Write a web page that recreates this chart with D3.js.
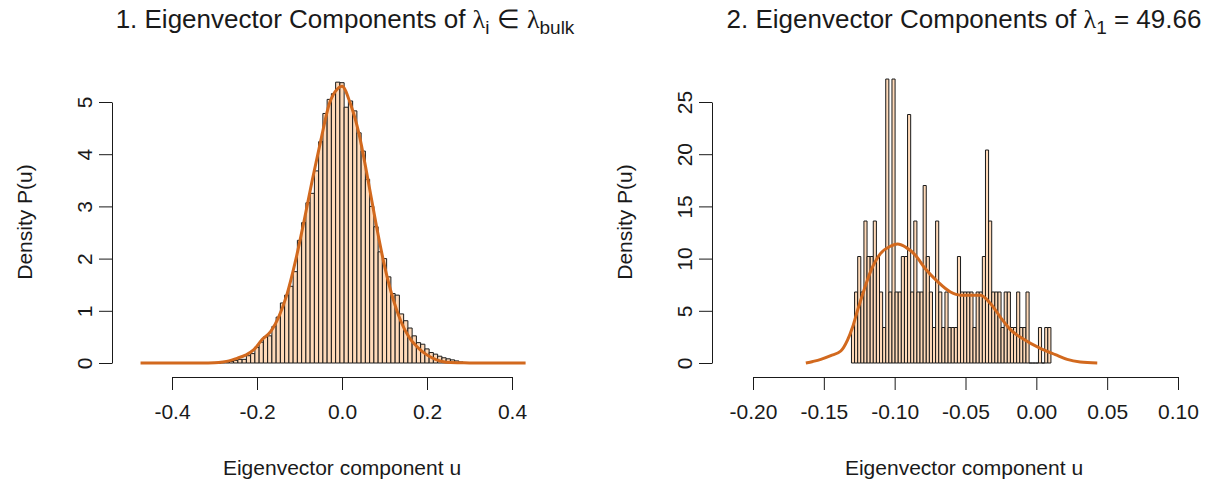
<!DOCTYPE html>
<html>
<head>
<meta charset="utf-8">
<script src="https://cdn.jsdelivr.net/npm/d3@7"></script>
<style>
  body { margin: 0; background: #fff; }
  svg { display: block; font-family: "Liberation Sans", Arial, sans-serif; }
</style>
</head>
<body>
<svg id="chart" width="1216" height="487"></svg>
<script>
// panel 1: bulk eigenvector components, histogram bins of 0.01
const leftBinStart = -0.305;
const leftBinWidth = 0.01;
const leftDensity = [
  0.01, 0.0, 0.01, 0.02, 0.03, 0.05, 0.07, 0.07, 0.14, 0.18,
  0.30, 0.40, 0.50, 0.52, 0.70, 0.88, 1.15, 1.30, 1.47, 1.75,
  2.35, 2.69, 3.07, 3.25, 3.68, 4.24, 4.78, 5.05, 5.16, 5.38,
  5.37, 4.90, 5.02, 4.83, 4.41, 4.06, 3.52, 3.00, 2.61, 2.13,
  2.00, 1.65, 1.33, 1.30, 0.94, 0.81, 0.67, 0.52, 0.39, 0.36,
  0.27, 0.20, 0.17, 0.13, 0.10, 0.08, 0.06, 0.04, 0.02, 0.01,
];
const leftKdeU = [
  -0.474, -0.40, -0.33, -0.30, -0.28, -0.266, -0.247, -0.227, -0.208, -0.188,
  -0.168, -0.149, -0.129, -0.109, -0.089, -0.070, -0.050, -0.030, -0.011, 0.0,
  0.020, 0.040, 0.060, 0.080, 0.099, 0.119, 0.138, 0.158, 0.178, 0.197,
  0.217, 0.236, 0.256, 0.28, 0.30, 0.35, 0.432,
];
const leftKdeP = [
  0, 0, 0, 0.005, 0.02, 0.04, 0.09, 0.15, 0.25, 0.45,
  0.60, 0.88, 1.33, 1.97, 2.73, 3.50, 4.26, 4.96, 5.25, 5.30,
  4.96, 4.39, 3.56, 2.67, 1.90, 1.26, 0.81, 0.49, 0.30, 0.17,
  0.08, 0.03, 0.01, 0.005, 0, 0, 0,
];
const leftXTicks = [-0.4, -0.2, 0.0, 0.2, 0.4];
const leftYTicks = [0, 1, 2, 3, 4, 5];

// panel 2: leading eigenvector, counts per bin (one count = 3.4 density)
const rightBinStart = -0.1305;
const rightBinWidth = 0.0022;
const rightCountUnit = 3.4;
const rightCounts = [
  1, 2, 3, 2, 4, 3, 3, 4, 3, 2,
  1, 8, 2, 8, 2, 2, 3, 3, 7, 2,
  4, 2, 2, 5, 3, 2, 1, 4, 2, 1,
  2, 1, 1, 1, 3, 2, 2, 2, 2, 1,
  2, 2, 3, 6, 4, 2, 2, 2, 1, 2,
  2, 1, 1, 2, 1, 1, 2, 0, 0, 0,
  1, 0, 1, 1,
];
const rightKdeU = [
  -0.1627, -0.1577, -0.1521, -0.1451, -0.138, -0.1333, -0.1298, -0.1263, -0.1216, -0.1169,
  -0.1099, -0.1028, -0.0979, -0.0923, -0.0852, -0.0782, -0.0697, -0.0606, -0.0535, -0.0465,
  -0.0394, -0.0324, -0.0254, -0.0183, -0.0092, 0.0028, 0.0134, 0.0218, 0.031, 0.043,
];
const rightKdeP = [
  0, 0.15, 0.35, 0.7, 1.15, 2.2, 3.4, 5.0, 7.0, 8.8,
  10.5, 11.2, 11.4, 11.1, 10.3, 9.0, 7.8, 6.8, 6.5, 6.5,
  6.5, 5.7, 4.4, 3.2, 2.3, 1.4, 0.8, 0.35, 0.1, 0,
];
const rightXTicks = [-0.20, -0.15, -0.10, -0.05, 0.00, 0.05, 0.10];
const rightYTicks = [0, 5, 10, 15, 20, 25];

const svg = d3.select("#chart");
const FONT = 21;
const BAR_FILL = "#FFDAB9";
const KDE_COLOR = "#D2691E";
const INK = "#1a1a1a";

drawPanel({
  bins: leftDensity.map((v, i) => ({
    x0: leftBinStart + i * leftBinWidth,
    x1: leftBinStart + (i + 1) * leftBinWidth,
    value: v,
  })),
  kde: d3.zip(leftKdeU, leftKdeP),
  xDomain: [-0.4, 0.4],
  xRange: [172, 512],
  yDomain: [0, 5],
  xTicks: leftXTicks,
  yTicks: leftYTicks,
  xDigits: 1,
  axisX: 112,
  center: 342,
});

drawPanel({
  bins: rightCounts.map((c, i) => ({
    x0: rightBinStart + i * rightBinWidth,
    x1: rightBinStart + (i + 1) * rightBinWidth,
    value: c * rightCountUnit,
  })),
  kde: d3.zip(rightKdeU, rightKdeP),
  xDomain: [-0.2, 0.1],
  xRange: [753, 1178],
  yDomain: [0, 25],
  xTicks: rightXTicks,
  yTicks: rightYTicks,
  xDigits: 2,
  axisX: 712,
  center: 964,
});

drawTitle(345, "1. Eigenvector Components of ", [
  { t: "λ", greek: true }, { t: "i", sub: true }, { t: " ∈ " },
  { t: "λ", greek: true }, { t: "bulk", sub: true },
]);
drawTitle(964, "2. Eigenvector Components of ", [
  { t: "λ", greek: true }, { t: "1", sub: true }, { t: " = 49.66" },
]);

function drawPanel(cfg) {
  const x = d3.scaleLinear().domain(cfg.xDomain).range(cfg.xRange);
  const y = d3.scaleLinear().domain(cfg.yDomain).range([363, 102]);
  const g = svg.append("g");

  // bars as paths so empty bins still leave the baseline stroke
  g.append("g")
    .selectAll("path")
    .data(cfg.bins)
    .join("path")
    .attr("d", (d) => `M${x(d.x0)},${y(0)}V${y(d.value)}H${x(d.x1)}V${y(0)}Z`)
    .attr("fill", BAR_FILL)
    .attr("stroke", INK)
    .attr("stroke-width", 1);

  const line = d3
    .line()
    .x((d) => x(d[0]))
    .y((d) => y(d[1]))
    .curve(d3.curveMonotoneX);

  g.append("path")
    .datum(cfg.kde)
    .attr("d", line)
    .attr("fill", "none")
    .attr("stroke", KDE_COLOR)
    .attr("stroke-width", 3)
    .attr("stroke-linejoin", "round");

  // R prints a plain hyphen for negatives, not the unicode minus d3 uses
  const xAxis = g
    .append("g")
    .attr("transform", "translate(0,377)")
    .call(
      d3.axisBottom(x)
        .tickValues(cfg.xTicks)
        .tickFormat((v) => v.toFixed(cfg.xDigits))
        .tickSize(13)
        .tickSizeOuter(0)
        .tickPadding(14),
    );
  styleAxis(xAxis);

  const yAxis = g
    .append("g")
    .attr("transform", `translate(${cfg.axisX},0)`)
    .call(
      d3.axisLeft(y)
        .tickValues(cfg.yTicks)
        .tickFormat((v) => String(v))
        .tickSize(13)
        .tickSizeOuter(0),
    );
  styleAxis(yAxis);
  yAxis
    .selectAll(".tick text")
    .attr("transform", "rotate(-90)")
    .attr("x", 0)
    .attr("y", -20)
    .attr("dy", 0)
    .attr("text-anchor", "middle");

  g.append("text")
    .attr("x", cfg.center)
    .attr("y", 475)
    .attr("text-anchor", "middle")
    .attr("font-size", FONT)
    .attr("fill", INK)
    .text("Eigenvector component u");

  g.append("text")
    .attr("transform", `translate(${cfg.axisX - 80},222) rotate(-90)`)
    .attr("text-anchor", "middle")
    .attr("font-size", FONT)
    .attr("fill", INK)
    .text("Density P(u)");
}

function styleAxis(sel) {
  sel.attr("font-size", null).attr("font-family", null);
  sel.select(".domain").attr("stroke", INK).attr("stroke-width", 1);
  sel.selectAll(".tick line").attr("stroke", INK).attr("stroke-width", 1);
  sel.selectAll(".tick text").attr("font-size", FONT).attr("fill", INK);
}

function drawTitle(cx, lead, parts) {
  const text = svg
    .append("text")
    .attr("x", cx)
    .attr("y", 28)
    .attr("text-anchor", "middle")
    .attr("font-size", 26)
    .attr("fill", INK);
  text.append("tspan").text(lead);
  let shifted = false;
  for (const p of parts) {
    const span = text.append("tspan").text(p.t);
    if (p.greek) span.attr("font-family", "'Liberation Serif', serif");
    if (p.sub) {
      span.attr("font-size", 19).attr("dy", 6);
      shifted = true;
    } else if (shifted) {
      span.attr("dy", -6);
      shifted = false;
    }
  }
}
</script>
</body>
</html>
